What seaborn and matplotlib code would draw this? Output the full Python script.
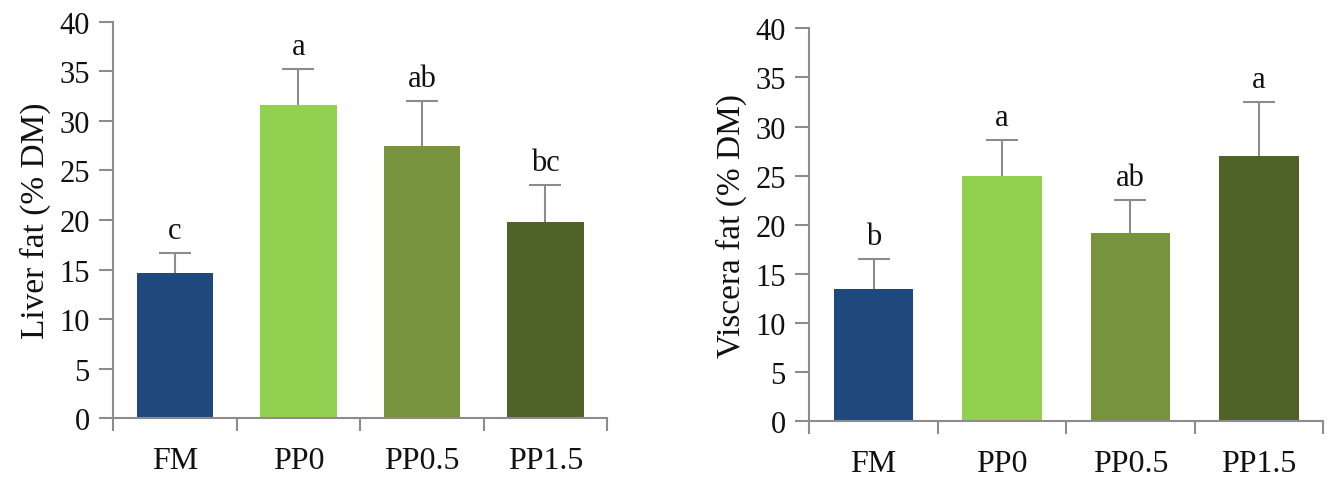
import matplotlib
matplotlib.use("Agg")
import matplotlib.pyplot as plt
import seaborn as sns
import pandas as pd
import numpy as np

categories = ["FM", "PP0", "PP0.5", "PP1.5"]
liver_fat = [14.7, 31.6, 27.5, 19.8]
liver_err = [2.0, 3.6, 4.5, 3.7]
liver_letters = ["c", "a", "ab", "bc"]
viscera_fat = [13.5, 25.0, 19.2, 27.0]
viscera_err = [3.0, 3.6, 3.3, 5.5]
viscera_letters = ["b", "a", "ab", "a"]
yticks = [0, 5, 10, 15, 20, 25, 30, 35, 40]
colors = ["#1F497D", "#92D050", "#77933C", "#4F6228"]

sns.set_theme(style="white")
plt.rcParams["font.family"] = ["Liberation Serif", "DejaVu Serif"]

fig = plt.figure(figsize=(13.29, 4.81), dpi=100)
ax1 = fig.add_axes([113.3 / 1329, 1 - 419.3 / 481, (607 - 113.3) / 1329, (419.3 - 22.7) / 481])
ax2 = fig.add_axes([809.3 / 1329, 1 - 422.3 / 481, (1323 - 809.3) / 1329, (422.3 - 29.3) / 481])

spine_col = "#8C8C8C"

def panel(ax, vals, errs, letters, ylabel):
    df = pd.DataFrame({"cat": categories, "val": vals})
    sns.barplot(data=df, x="cat", y="val", hue="cat", palette=colors, legend=False,
                width=0.62, ax=ax, saturation=1, edgecolor="none", zorder=2)
    ax.errorbar(np.arange(len(vals)), vals, yerr=errs, fmt="none", ecolor=spine_col,
                elinewidth=1.5, capsize=11.5, capthick=1.5, zorder=1)
    for i, (v, e, t) in enumerate(zip(vals, errs, letters)):
        ax.text(i, v + e + 0.8, t, ha="center", va="bottom", fontsize=22, color="#111111")
    ax.set_xlim(-0.5, len(vals) - 0.5)
    ax.set_ylim(0, 40)
    ax.set_yticks(yticks)
    ax.set_yticklabels([str(t) for t in yticks], fontsize=22)
    ax.set_xticks(np.arange(len(vals)))
    ax.set_xticklabels(categories, fontsize=23)
    ax.set_xticks(np.arange(len(vals) + 1) - 0.5, minor=True)
    ax.tick_params(axis="x", which="major", length=0, pad=20, colors="#111111")
    ax.tick_params(axis="x", which="minor", length=9, width=1.5, color=spine_col, direction="out", bottom=True)
    ax.tick_params(axis="y", which="major", length=10, width=1.5, color=spine_col, direction="out",
                   left=True, pad=7, labelcolor="#111111")
    for s in ["top", "right"]:
        ax.spines[s].set_visible(False)
    for s in ["left", "bottom"]:
        ax.spines[s].set_color(spine_col)
        ax.spines[s].set_linewidth(1.5)
    ax.set_xlabel("")
    ax.set_ylabel(ylabel, fontsize=24, color="#111111", labelpad=6)
    ax.set_facecolor("white")

panel(ax1, liver_fat, liver_err, liver_letters, "Liver fat (% DM)")
panel(ax2, viscera_fat, viscera_err, viscera_letters, "Viscera fat (% DM)")

fig.savefig("out.png", dpi=100, facecolor="white")
